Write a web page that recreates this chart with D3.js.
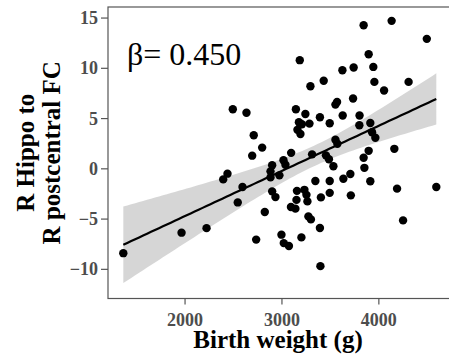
<!DOCTYPE html>
<html><head><meta charset="utf-8">
<script src="https://cdn.jsdelivr.net/npm/d3@7"></script>
<style>body{margin:0;background:#fff}svg{display:block}</style>
</head><body>
<svg id="c" width="449" height="362"></svg>
<script>
// Birth weight (g)
const birthWeight = [1368,1969,2227,2399,2443,2498,2549,2598,2639,2698,2714,2739,2801,2828,2887,2887,2904,2904,2938,2979,3000,3021,3024,3041,3077,3098,3100,3144,3149,3155,3160,3165,3180,3189,3196,3206,3211,3237,3247,3258,3268,3278,3289,3299,3304,3316,3350,3397,3397,3402,3407,3436,3459,3490,3498,3498,3498,3536,3557,3557,3574,3577,3629,3632,3639,3711,3716,3739,3745,3804,3806,3848,3848,3856,3900,3900,3917,3917,3935,3948,3959,3969,4059,4137,4165,4193,4255,4312,4500,4598];
// R Hippo to R postcentral FC
const fcValue = [-8.44,-6.40,-5.95,-1.10,-0.53,5.88,-3.39,-1.86,5.53,1.26,3.29,-7.09,2.06,-4.35,-0.30,-0.90,0.30,-2.29,-2.86,-0.70,-6.60,0.80,-7.44,0.35,-7.72,-3.85,1.54,-4.01,5.88,-3.14,-2.24,3.83,4.58,10.76,3.42,-6.87,4.38,-2.14,5.41,-2.64,-3.29,-4.78,4.45,8.17,-5.08,1.39,-1.26,5.08,-5.93,-9.73,-2.89,8.72,1.29,0.90,4.48,-1.26,-2.44,0.20,6.34,2.84,6.60,2.44,9.76,5.25,-1.03,-0.57,-2.69,6.95,10.03,4.28,5.26,14.24,1.05,0.05,11.35,1.74,4.51,-1.29,3.59,10.09,8.60,3.04,7.74,14.67,1.94,-2.02,-5.18,8.60,12.88,-1.86];
const xTicks = [2000, 3000, 4000];
const yTicks = [-10, -5, 0, 5, 10, 15];
const xLimits = [1210, 4760];
const yLimits = [-12.95, 16.05];
const betaLabel = "β= 0.450";
const xTitle = "Birth weight (g)";
const yTitleLines = ["R Hippo to", "R postcentral FC"];

const svg = d3.select("#c");
const L = 108, T = 7, R = 452, B = 298.5;
const x = d3.scaleLinear().domain(xLimits).range([L, R]);
const y = d3.scaleLinear().domain(yLimits).range([B, T]);

// linear fit with 95% CI (as geom_smooth(method="lm"))
const n = birthWeight.length;
const xm = d3.mean(birthWeight), ym = d3.mean(fcValue);
let sxx = 0, sxy = 0;
for (let i = 0; i < n; i++) { sxx += (birthWeight[i]-xm)**2; sxy += (birthWeight[i]-xm)*(fcValue[i]-ym); }
const b1 = sxy / sxx, b0 = ym - b1 * xm;
let sse = 0;
for (let i = 0; i < n; i++) sse += (fcValue[i] - b0 - b1*birthWeight[i])**2;
const s = Math.sqrt(sse / (n - 2));
const tq = 1.987;
const [xmin, xmax] = d3.extent(birthWeight);
const grid = d3.range(80).map(i => xmin + (xmax - xmin) * i / 79);
const fit = grid.map(g => {
  const f = b0 + b1 * g;
  const se = s * Math.sqrt(1/n + (g - xm)**2 / sxx);
  return {x: g, f, lo: f - tq*se, hi: f + tq*se};
});

svg.append("path").datum(fit)
  .attr("d", d3.area().x(d => x(d.x)).y0(d => y(d.lo)).y1(d => y(d.hi)))
  .attr("fill", "#999999").attr("fill-opacity", 0.4);

svg.append("g").selectAll("circle").data(birthWeight).join("circle")
  .attr("cx", (d) => x(d)).attr("cy", (d, i) => y(fcValue[i]))
  .attr("r", 4.2).attr("fill", "#000");

svg.append("path").datum(fit)
  .attr("d", d3.line().x(d => x(d.x)).y(d => y(d.f)))
  .attr("fill", "none").attr("stroke", "#000").attr("stroke-width", 2.2);

// panel border
svg.append("rect").attr("x", L).attr("y", T).attr("width", R - L).attr("height", B - T)
  .attr("fill", "none").attr("stroke", "#555").attr("stroke-width", 1.2);

const font = "'Liberation Serif','Times New Roman',serif";
// x axis
const xa = svg.append("g").attr("transform", `translate(0,${B})`)
  .call(d3.axisBottom(x).tickValues(xTicks).tickSize(6).tickPadding(3).tickFormat(d3.format("d")));
xa.select(".domain").remove();
xa.selectAll("line").attr("stroke", "#555").attr("stroke-width", 1.2);
xa.selectAll("text").attr("font-family", font).attr("font-weight", "bold").attr("font-size", 18)
  .attr("fill", "#4d4d4d").attr("dy", null).attr("y", 27.5);
// y axis
const ya = svg.append("g").attr("transform", `translate(${L},0)`)
  .call(d3.axisLeft(y).tickValues(yTicks).tickSize(7).tickPadding(3));
ya.select(".domain").remove();
ya.selectAll("line").attr("stroke", "#555").attr("stroke-width", 1.2);
ya.selectAll("text").attr("font-family", font).attr("font-weight", "bold").attr("font-size", 18)
  .attr("fill", "#4d4d4d").attr("dy", "0.34em");

// titles
svg.append("text").attr("x", 278).attr("y", 348).attr("text-anchor", "middle")
  .attr("font-family", font).attr("font-weight", "bold").attr("font-size", 25).attr("fill", "#000")
  .text(xTitle);
const yt = svg.append("text").attr("transform", `translate(34,${(T + B) / 2}) rotate(-90)`)
  .attr("text-anchor", "middle").attr("font-family", font).attr("font-weight", "bold")
  .attr("font-size", 25).attr("fill", "#000");
yTitleLines.forEach((t, i) => yt.append("tspan").attr("x", 0).attr("dy", i === 0 ? 0 : 26).text(t));

svg.append("text").attr("x", 127).attr("y", 65).attr("font-family", font)
  .attr("font-size", 32).attr("fill", "#000").text(betaLabel);
</script>
</body></html>
